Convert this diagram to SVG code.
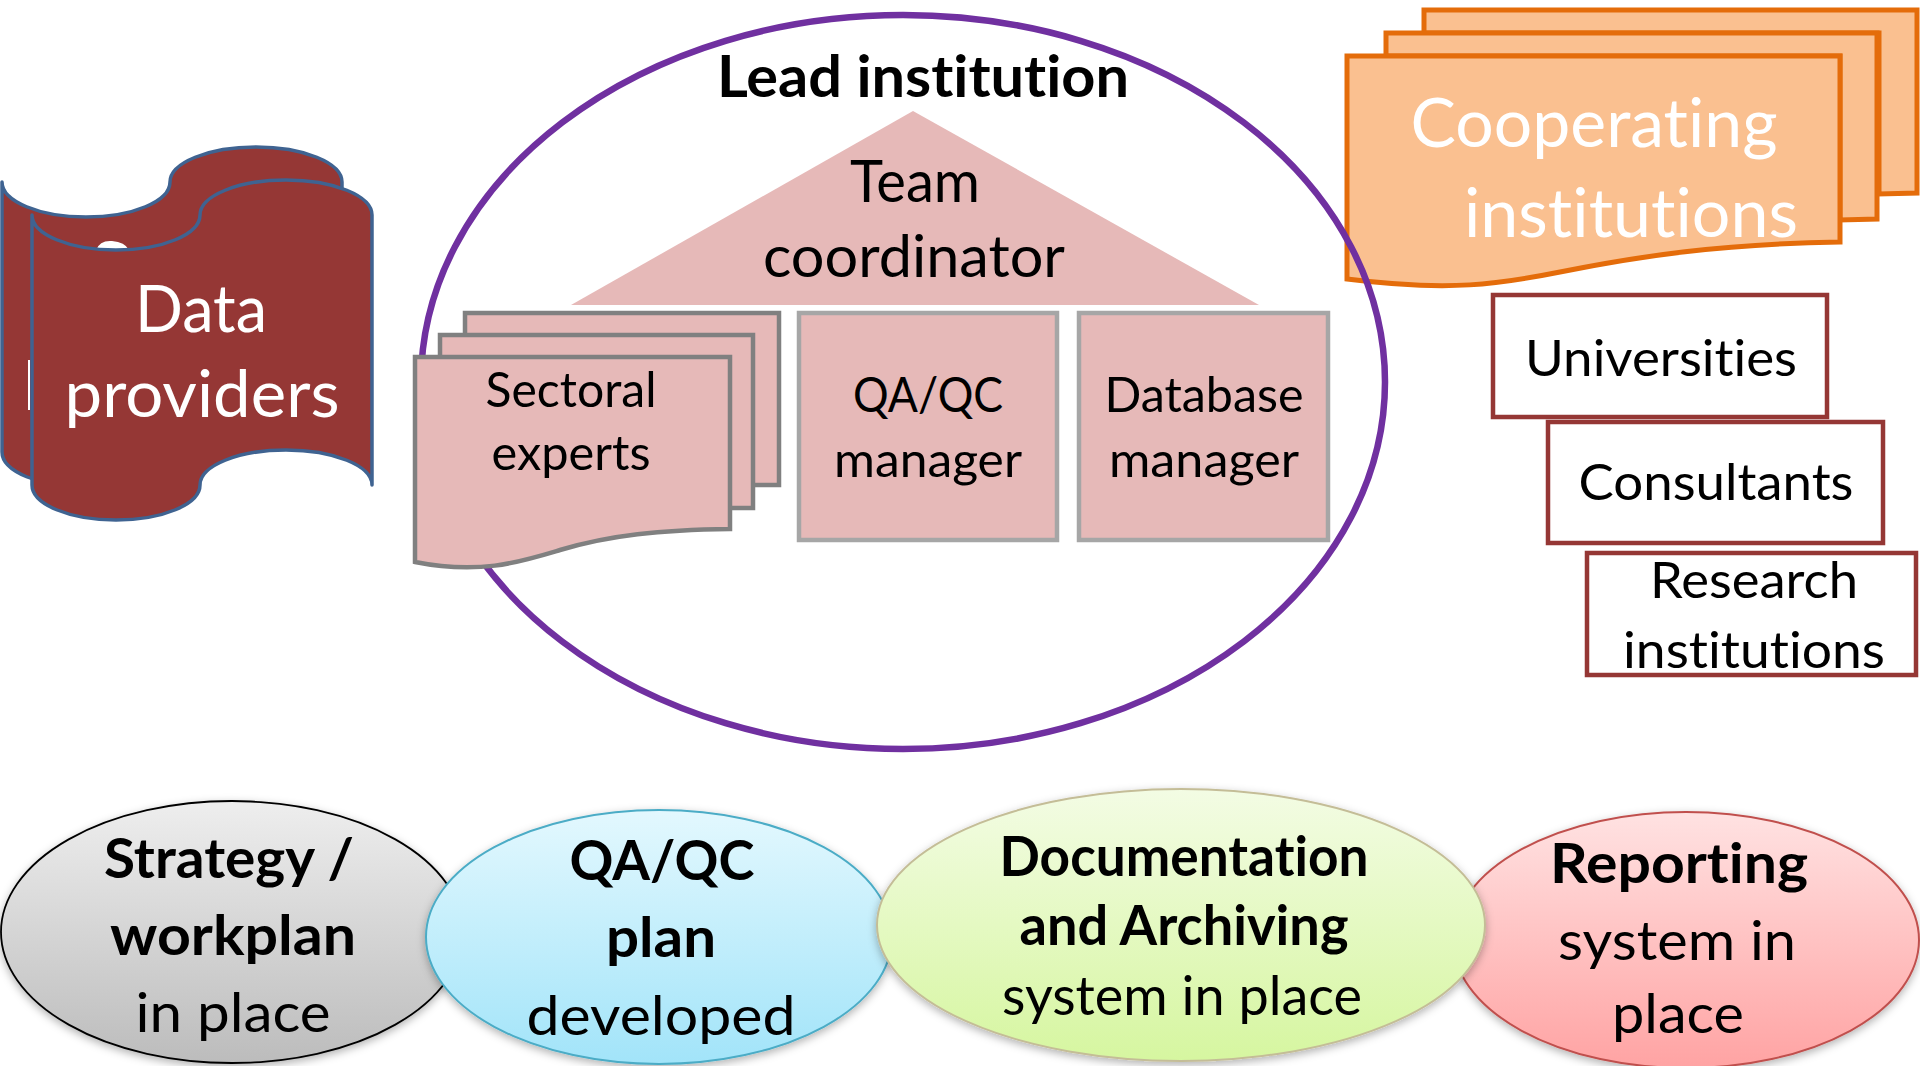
<svg xmlns="http://www.w3.org/2000/svg" width="1920" height="1066" viewBox="0 0 1920 1066">
<defs>
<style>
.t{font-family:Lato,"Liberation Sans",sans-serif;text-anchor:middle;fill:#000;font-variant-ligatures:none;font-feature-settings:"liga" 0}
.b{font-weight:bold}
.w{fill:#fff}
.dp{fill:#953735;stroke:#3F6391;stroke-width:3.5;stroke-linejoin:round}
.org{fill:#FAC090;stroke:#E46C0A;stroke-width:5}
.pink{fill:#E6B9B8;stroke:#808080;stroke-width:4.5}
.pink2{fill:#E6B9B8;stroke:#A6A6A6;stroke-width:4.5}
.inst{fill:#fff;stroke:#953735;stroke-width:4.5}
</style>
<linearGradient id="gGray" x1="0" y1="0" x2="0" y2="1"><stop offset="0" stop-color="#EEEEEE"/><stop offset="1" stop-color="#BCBCBC"/></linearGradient>
<linearGradient id="gBlue" x1="0" y1="0" x2="0" y2="1"><stop offset="0" stop-color="#E3F8FE"/><stop offset="1" stop-color="#A2E4F9"/></linearGradient>
<linearGradient id="gGreen" x1="0" y1="0" x2="0" y2="1"><stop offset="0" stop-color="#F3FCE4"/><stop offset="1" stop-color="#D6F6A0"/></linearGradient>
<linearGradient id="gRed" x1="0" y1="0" x2="0" y2="1"><stop offset="0" stop-color="#FFE2E2"/><stop offset="1" stop-color="#FFA3A3"/></linearGradient>
<filter id="sh" x="-10%" y="-10%" width="120%" height="130%"><feDropShadow dx="0" dy="3" stdDeviation="4" flood-color="#000" flood-opacity="0.3"/></filter>
</defs>

<g id="data-providers">
<path class="dp" d="M2,182 A84,35 0 0 0 170,182 A86,35 0 0 1 342,182 L342,452 A86,35 0 0 0 170,452 A84,35 0 0 1 2,452 Z"/>
<path d="M96,250 Q100,240 112,241 Q125,242 129,250 Z" fill="#fff"/>
<rect x="28" y="360" width="2" height="50" fill="#fff"/>
<path class="dp" d="M32,215 A84,35 0 0 0 200,215 A86,35 0 0 1 372,215 L372,485 A86,35 0 0 0 200,485 A84,35 0 0 1 32,485 Z"/>
<text class="t w" x="201" y="332" font-size="65" textLength="132" lengthAdjust="spacingAndGlyphs">Data</text>
<text class="t w" x="202" y="417" font-size="65" textLength="275" lengthAdjust="spacingAndGlyphs">providers</text>
</g>

<g id="cooperating-institutions">
<path class="org" d="M1424,10 L1917,10 L1917,193 L1879,194 L1879,33 L1424,33 Z"/>
<path class="org" d="M1386,33 L1877,33 L1877,219 L1840,220 L1840,56 L1386,56 Z"/>
<path class="org" d="M1347,56 L1840,56 L1840,242 C1720,244 1640,256 1560,272 C1500,284 1450,292 1347,279 Z"/>
<text class="t w" x="1594" y="147" font-size="67" textLength="367" lengthAdjust="spacingAndGlyphs">Cooperating</text>
<text class="t w" x="1631" y="237" font-size="67" textLength="334" lengthAdjust="spacingAndGlyphs">institutions</text>
</g>

<g id="lead-institution">
<ellipse cx="903" cy="382" rx="482" ry="367" fill="none" stroke="#7030A0" stroke-width="6.5"/>
<text class="t b" x="923" y="97" font-size="58" textLength="412" lengthAdjust="spacingAndGlyphs">Lead institution</text>
</g>

<g id="team-coordinator">
<polygon points="913,111 1259,305 571,305" fill="#E6B9B8"/>
<text class="t" x="915" y="202" font-size="58" textLength="130" lengthAdjust="spacingAndGlyphs">Team</text>
<text class="t" x="914" y="277" font-size="58" textLength="302" lengthAdjust="spacingAndGlyphs">coordinator</text>
</g>

<g id="sectoral-experts">
<rect class="pink" x="465" y="313" width="314" height="172"/>
<rect class="pink" x="440" y="335" width="313" height="173"/>
<path class="pink" d="M415,357 L730,357 L730,529 C660,530 610,535 560,550 C520,562 480,575 415,562 Z"/>
<text class="t" x="571" y="407" font-size="48" textLength="171" lengthAdjust="spacingAndGlyphs">Sectoral</text>
<text class="t" x="571" y="470" font-size="48" textLength="159" lengthAdjust="spacingAndGlyphs">experts</text>
</g>

<g id="qaqc-manager">
<rect class="pink2" x="799" y="313" width="258" height="227"/>
<text class="t" x="928" y="412" font-size="48" textLength="150" lengthAdjust="spacingAndGlyphs">QA/QC</text>
<text class="t" x="928" y="477" font-size="48" textLength="188" lengthAdjust="spacingAndGlyphs">manager</text>
</g>

<g id="database-manager">
<rect class="pink2" x="1079" y="313" width="249" height="227"/>
<text class="t" x="1204" y="412" font-size="48" textLength="199" lengthAdjust="spacingAndGlyphs">Database</text>
<text class="t" x="1204" y="477" font-size="48" textLength="190" lengthAdjust="spacingAndGlyphs">manager</text>
</g>

<g id="universities">
<rect class="inst" x="1493" y="295" width="334" height="122"/>
<text class="t" x="1661" y="376" font-size="51" textLength="272" lengthAdjust="spacingAndGlyphs">Universities</text>
</g>
<g id="consultants">
<rect class="inst" x="1548" y="422" width="335" height="121"/>
<text class="t" x="1716" y="500" font-size="51" textLength="275" lengthAdjust="spacingAndGlyphs">Consultants</text>
</g>
<g id="research-institutions">
<rect class="inst" x="1587" y="553" width="329" height="122"/>
<text class="t" x="1754" y="598" font-size="51" textLength="208" lengthAdjust="spacingAndGlyphs">Research</text>
<text class="t" x="1754" y="668" font-size="51" textLength="262" lengthAdjust="spacingAndGlyphs">institutions</text>
</g>

<g id="connectors"></g>

<g id="strategy">
<ellipse cx="232" cy="932" rx="231" ry="131" fill="url(#gGray)" stroke="#000" stroke-width="1.8" filter="url(#sh)"/>
<text class="t b" x="229" y="878" font-size="55" textLength="250" lengthAdjust="spacingAndGlyphs">Strategy /</text>
<text class="t b" x="233" y="955" font-size="55" textLength="246" lengthAdjust="spacingAndGlyphs">workplan</text>
<text class="t" x="233" y="1032" font-size="55" textLength="195" lengthAdjust="spacingAndGlyphs">in place</text>
</g>
<g id="qaqc-plan">
<ellipse cx="659" cy="937" rx="233" ry="127" fill="url(#gBlue)" stroke="#4BACC6" stroke-width="2" filter="url(#sh)"/>
<text class="t b" x="662" y="880" font-size="55" textLength="185" lengthAdjust="spacingAndGlyphs">QA/QC</text>
<text class="t b" x="661" y="957" font-size="55" textLength="110" lengthAdjust="spacingAndGlyphs">plan</text>
<text class="t" x="661" y="1035" font-size="55" textLength="269" lengthAdjust="spacingAndGlyphs">developed</text>
</g>
<g id="reporting">
<ellipse cx="1686" cy="940" rx="233" ry="128" fill="url(#gRed)" stroke="#C0504D" stroke-width="2" filter="url(#sh)"/>
<text class="t b" x="1679" y="883" font-size="55" textLength="258" lengthAdjust="spacingAndGlyphs">Reporting</text>
<text class="t" x="1677" y="960" font-size="55" textLength="238" lengthAdjust="spacingAndGlyphs">system in</text>
<text class="t" x="1678" y="1033" font-size="55" textLength="132" lengthAdjust="spacingAndGlyphs">place</text>
</g>
<g id="documentation">
<ellipse cx="1181" cy="925" rx="304" ry="136" fill="url(#gGreen)" stroke="#C4BD97" stroke-width="2" filter="url(#sh)"/>
<text class="t b" x="1184" y="876" font-size="55" textLength="369" lengthAdjust="spacingAndGlyphs">Documentation</text>
<text class="t b" x="1184" y="945" font-size="55" textLength="329" lengthAdjust="spacingAndGlyphs">and Archiving</text>
<text class="t" x="1182" y="1015" font-size="55" textLength="360" lengthAdjust="spacingAndGlyphs">system in place</text>
</g>
</svg>
